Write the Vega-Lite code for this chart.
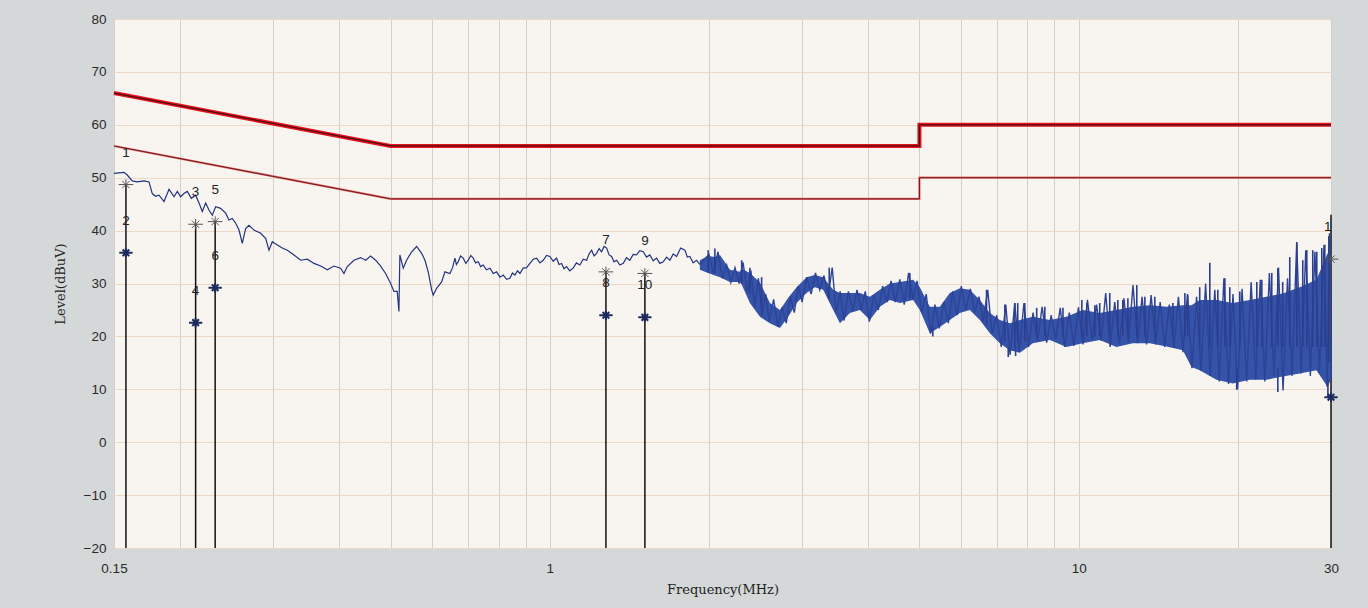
{
  "$schema": "https://vega.github.io/schema/vega-lite/v6.json",
  "width": 1217,
  "height": 529,
  "autosize": {"type": "none"},
  "padding": {"left": 114, "top": 19, "right": 37, "bottom": 60},
  "background": "#d5d8d8",
  "config": {
    "view": {"fill": "#f8f5f1", "stroke": "#9c9c9c", "strokeWidth": 1},
    "axis": {"domain": false, "ticks": false, "tickSize": 0, "labelFont": "Liberation Sans", "labelFontSize": 13.5, "labelColor": "#2a2a2a", "titleFont": "DejaVu Serif", "titleFontSize": 13, "titleFontWeight": "normal", "titleColor": "#222222"},
    "axisX": {"gridColor": "#d2cfcc", "gridWidth": 1},
    "axisY": {"gridColor": "#ecd9c6", "gridWidth": 1}
  },
  "datasets": {
    "limits": [
      {"s": "QP", "i": 0, "f": 0.15, "L": 66}, {"s": "QP", "i": 1, "f": 0.5, "L": 56}, {"s": "QP", "i": 2, "f": 5, "L": 56}, {"s": "QP", "i": 3, "f": 5, "L": 60}, {"s": "QP", "i": 4, "f": 30, "L": 60},
      {"s": "AV", "i": 0, "f": 0.15, "L": 56}, {"s": "AV", "i": 1, "f": 0.5, "L": 46}, {"s": "AV", "i": 2, "f": 5, "L": 46}, {"s": "AV", "i": 3, "f": 5, "L": 50}, {"s": "AV", "i": 4, "f": 30, "L": 50}
    ],
    "trace": [
      {"f": 0.150, "L": 50.8}, {"f": 0.1567, "L": 51.0}, {"f": 0.1589, "L": 50.5}, {"f": 0.1624, "L": 49.4}, {"f": 0.166, "L": 49.2}, {"f": 0.1709, "L": 49.4}, {"f": 0.1747, "L": 49.2}, {"f": 0.1772, "L": 47.0}, {"f": 0.1798, "L": 46.5}, {"f": 0.1825, "L": 46.7}, {"f": 0.1865, "L": 45.5}, {"f": 0.1906, "L": 47.8}, {"f": 0.1948, "L": 46.4}, {"f": 0.1976, "L": 47.4}, {"f": 0.2005, "L": 46.4}, {"f": 0.2034, "L": 47.0}, {"f": 0.2064, "L": 47.4}, {"f": 0.2100, "L": 46.1}, {"f": 0.2140, "L": 46.7}, {"f": 0.2172, "L": 45.2}, {"f": 0.2203, "L": 43.6}, {"f": 0.2236, "L": 45.2}, {"f": 0.2268, "L": 43.9}, {"f": 0.2301, "L": 42.9}, {"f": 0.2335, "L": 44.5}, {"f": 0.2386, "L": 44.2}, {"f": 0.2439, "L": 43.3}, {"f": 0.2474, "L": 42.0}, {"f": 0.2510, "L": 42.3}, {"f": 0.2548, "L": 41.4}, {"f": 0.2585, "L": 40.1}, {"f": 0.2622, "L": 37.6}, {"f": 0.2661, "L": 40.4}, {"f": 0.2700, "L": 41.0}, {"f": 0.2759, "L": 40.1}, {"f": 0.2841, "L": 39.5}, {"f": 0.2904, "L": 38.5}, {"f": 0.2945, "L": 36.3}, {"f": 0.2988, "L": 37.9}, {"f": 0.3054, "L": 37.3}, {"f": 0.3121, "L": 36.7}, {"f": 0.3190, "L": 36.3}, {"f": 0.3284, "L": 35.4}, {"f": 0.3381, "L": 34.4}, {"f": 0.3480, "L": 34.6}, {"f": 0.3583, "L": 33.8}, {"f": 0.3689, "L": 33.3}, {"f": 0.3797, "L": 32.6}, {"f": 0.3908, "L": 33.3}, {"f": 0.4023, "L": 32.9}, {"f": 0.4082, "L": 31.9}, {"f": 0.4141, "L": 33.2}, {"f": 0.4264, "L": 34.4}, {"f": 0.4390, "L": 34.9}, {"f": 0.4486, "L": 34.4}, {"f": 0.4585, "L": 35.2}, {"f": 0.4686, "L": 34.4}, {"f": 0.4789, "L": 33.3}, {"f": 0.4894, "L": 31.9}, {"f": 0.5002, "L": 30.0}, {"f": 0.5074, "L": 28.5}, {"f": 0.5147, "L": 28.5}, {"f": 0.5186, "L": 24.7}, {"f": 0.5207, "L": 35.4}, {"f": 0.5284, "L": 32.9}, {"f": 0.5362, "L": 34.4}, {"f": 0.5481, "L": 36.0}, {"f": 0.5601, "L": 37.0}, {"f": 0.5725, "L": 35.7}, {"f": 0.5808, "L": 34.4}, {"f": 0.5891, "L": 32.2}, {"f": 0.5980, "L": 28.8}, {"f": 0.6021, "L": 27.8}, {"f": 0.6110, "L": 29.1}, {"f": 0.6245, "L": 30.3}, {"f": 0.6335, "L": 32.2},
      {"f": 0.6475, "L": 31.9}, {"f": 0.655, "L": 33.0}, {"f": 0.6617, "L": 34.8}, {"f": 0.666, "L": 33.6}, {"f": 0.6714, "L": 34.1}, {"f": 0.678, "L": 35.2}, {"f": 0.6861, "L": 34.8}, {"f": 0.694, "L": 33.8}, {"f": 0.7013, "L": 34.4}, {"f": 0.709, "L": 35.3}, {"f": 0.7166, "L": 34.8}, {"f": 0.724, "L": 33.9}, {"f": 0.7325, "L": 34.1}, {"f": 0.740, "L": 33.2}, {"f": 0.7485, "L": 33.5}, {"f": 0.759, "L": 32.6}, {"f": 0.7707, "L": 32.9}, {"f": 0.782, "L": 31.9}, {"f": 0.7934, "L": 32.2}, {"f": 0.805, "L": 31.2}, {"f": 0.8166, "L": 31.6}, {"f": 0.829, "L": 30.8}, {"f": 0.8408, "L": 31.0}, {"f": 0.850, "L": 32.0}, {"f": 0.8592, "L": 31.6}, {"f": 0.869, "L": 32.4}, {"f": 0.8782, "L": 31.9}, {"f": 0.8907, "L": 32.9}, {"f": 0.904, "L": 33.0}, {"f": 0.9173, "L": 33.8}, {"f": 0.931, "L": 34.6}, {"f": 0.9445, "L": 34.8}, {"f": 0.958, "L": 33.9}, {"f": 0.9719, "L": 34.4}, {"f": 0.986, "L": 35.3}, {"f": 1.0007, "L": 35.1}, {"f": 1.015, "L": 34.2}, {"f": 1.030, "L": 34.8}, {"f": 1.041, "L": 33.6}, {"f": 1.053, "L": 33.8}, {"f": 1.064, "L": 32.8}, {"f": 1.076, "L": 33.2}, {"f": 1.091, "L": 32.4}, {"f": 1.107, "L": 32.9}, {"f": 1.123, "L": 33.9}, {"f": 1.140, "L": 33.5}, {"f": 1.157, "L": 34.6}, {"f": 1.174, "L": 34.4}, {"f": 1.187, "L": 35.6}, {"f": 1.200, "L": 36.3}, {"f": 1.213, "L": 35.2}, {"f": 1.226, "L": 35.7}, {"f": 1.240, "L": 36.6}, {"f": 1.253, "L": 36.0}, {"f": 1.267, "L": 37.0}, {"f": 1.281, "L": 36.7}, {"f": 1.295, "L": 35.4}, {"f": 1.309, "L": 35.1}, {"f": 1.323, "L": 34.1}, {"f": 1.338, "L": 34.4}, {"f": 1.357, "L": 33.5}, {"f": 1.377, "L": 33.8}, {"f": 1.397, "L": 34.9}, {"f": 1.417, "L": 34.4}, {"f": 1.438, "L": 35.5}, {"f": 1.459, "L": 35.4}, {"f": 1.480, "L": 36.2}, {"f": 1.502, "L": 36.0}, {"f": 1.524, "L": 35.0}, {"f": 1.546, "L": 35.4}, {"f": 1.569, "L": 34.3}, {"f": 1.592, "L": 34.8}, {"f": 1.615, "L": 33.8}, {"f": 1.639, "L": 34.1}, {"f": 1.663, "L": 35.0}, {"f": 1.687, "L": 34.4}, {"f": 1.712, "L": 35.6}, {"f": 1.737, "L": 35.1}, {"f": 1.768, "L": 36.7}, {"f": 1.801, "L": 36.3}, {"f": 1.820, "L": 35.0}, {"f": 1.840, "L": 35.1}, {"f": 1.867, "L": 33.9}, {"f": 1.895, "L": 34.4}, {"f": 1.922, "L": 33.6}
    ],
    "band": [
      {"f": 1.922, "L": 32.6, "L2": 34.4}, {"f": 1.993, "L": 32.0, "L2": 35.2}, {"f": 2.052, "L": 31.5, "L2": 35.0}, {"f": 2.098, "L": 31.2, "L2": 35.4}, {"f": 2.191, "L": 30.3, "L2": 32.6}, {"f": 2.288, "L": 30.3, "L2": 32.2}, {"f": 2.306, "L": 29.8, "L2": 32.8}, {"f": 2.390, "L": 26.3, "L2": 32.0}, {"f": 2.497, "L": 23.7, "L2": 30.2}, {"f": 2.608, "L": 22.5, "L2": 26.3}, {"f": 2.724, "L": 21.6, "L2": 25.0}, {"f": 2.824, "L": 23.7, "L2": 27.3}, {"f": 2.929, "L": 26.3, "L2": 29.3}, {"f": 3.059, "L": 28.2, "L2": 31.2}, {"f": 3.171, "L": 29.3, "L2": 31.6}, {"f": 3.288, "L": 28.8, "L2": 31.2}, {"f": 3.435, "L": 25.0, "L2": 28.8}, {"f": 3.537, "L": 22.5, "L2": 28.2}, {"f": 3.694, "L": 24.4, "L2": 28.2}, {"f": 3.858, "L": 25.0, "L2": 28.2}, {"f": 4.030, "L": 23.1, "L2": 27.5}, {"f": 4.209, "L": 25.6, "L2": 28.8}, {"f": 4.395, "L": 26.9, "L2": 30.0}, {"f": 4.591, "L": 26.3, "L2": 30.3}, {"f": 4.865, "L": 26.9, "L2": 30.7}, {"f": 5.008, "L": 25.0, "L2": 29.3}, {"f": 5.231, "L": 20.6, "L2": 25.6}, {"f": 5.464, "L": 21.8, "L2": 25.6}, {"f": 5.707, "L": 23.1, "L2": 28.2}, {"f": 5.961, "L": 24.4, "L2": 29.1}, {"f": 6.226, "L": 25.0, "L2": 28.8}, {"f": 6.504, "L": 23.1, "L2": 26.9}, {"f": 6.793, "L": 20.6, "L2": 24.4}, {"f": 7.096, "L": 18.7, "L2": 23.1}, {"f": 7.412, "L": 17.4, "L2": 22.5}, {"f": 7.742, "L": 16.9, "L2": 23.1}, {"f": 8.19, "L": 18.7, "L2": 23.7}, {"f": 8.82, "L": 19.3, "L2": 23.1}, {"f": 9.48, "L": 18.0, "L2": 23.7}, {"f": 10.18, "L": 18.7, "L2": 25.0}, {"f": 10.96, "L": 19.3, "L2": 24.4}, {"f": 11.79, "L": 18.0, "L2": 25.0}, {"f": 12.66, "L": 18.7, "L2": 25.6}, {"f": 13.63, "L": 18.7, "L2": 25.9}, {"f": 14.66, "L": 18.1, "L2": 25.6}, {"f": 15.74, "L": 17.4, "L2": 25.9}, {"f": 16.34, "L": 14.2, "L2": 25.9}, {"f": 16.94, "L": 13.6, "L2": 26.9}, {"f": 18.22, "L": 11.8, "L2": 26.9}, {"f": 19.56, "L": 11.1, "L2": 26.3}, {"f": 21.06, "L": 11.8, "L2": 26.9}, {"f": 22.65, "L": 11.8, "L2": 27.5}, {"f": 24.31, "L": 12.4, "L2": 28.1}, {"f": 26.18, "L": 13.0, "L2": 29.3}, {"f": 28.16, "L": 13.6, "L2": 30.7}, {"f": 29.58, "L": 10.4, "L2": 35.8}, {"f": 30, "L": 12, "L2": 30}
    ],
    "zigzag": [
      {"f": 1.922, "L": 33.6}, {"f": 2.00, "L": 35.5}, {"f": 2.04, "L": 31.8}, {"f": 2.08, "L": 36.0}, {"f": 2.12, "L": 31.0}, {"f": 2.16, "L": 33.5}, {"f": 2.20, "L": 30.2}, {"f": 2.24, "L": 33.0}, {"f": 2.28, "L": 30.0}, {"f": 2.32, "L": 34.0}, {"f": 2.36, "L": 28.5}, {"f": 2.40, "L": 32.5}, {"f": 2.44, "L": 25.5}, {"f": 2.48, "L": 31.0}, {"f": 2.52, "L": 24.0}, {"f": 2.56, "L": 28.0}, {"f": 2.60, "L": 22.8}, {"f": 2.65, "L": 27.0}, {"f": 2.70, "L": 21.8}, {"f": 2.75, "L": 25.5}, {"f": 2.80, "L": 22.5}, {"f": 2.85, "L": 27.5}, {"f": 2.90, "L": 24.5}, {"f": 2.95, "L": 29.5}, {"f": 3.00, "L": 26.5}, {"f": 3.06, "L": 31.2}, {"f": 3.12, "L": 28.0}, {"f": 3.18, "L": 32.0}, {"f": 3.24, "L": 28.8}, {"f": 3.30, "L": 31.5}, {"f": 3.36, "L": 27.5}, {"f": 3.42, "L": 33.0}, {"f": 3.48, "L": 24.5}, {"f": 3.54, "L": 28.5}, {"f": 3.60, "L": 23.0}, {"f": 3.67, "L": 28.5}, {"f": 3.74, "L": 24.8}, {"f": 3.81, "L": 28.8}, {"f": 3.88, "L": 25.0}, {"f": 3.95, "L": 28.5}, {"f": 4.02, "L": 22.8}, {"f": 4.10, "L": 27.8}, {"f": 4.18, "L": 25.0}, {"f": 4.26, "L": 29.5}, {"f": 4.34, "L": 26.5}, {"f": 4.42, "L": 30.5}, {"f": 4.50, "L": 26.5}, {"f": 4.59, "L": 30.8}, {"f": 4.68, "L": 26.0}, {"f": 4.77, "L": 32.0}, {"f": 4.86, "L": 27.0}, {"f": 4.95, "L": 30.5}, {"f": 5.05, "L": 24.5}, {"f": 5.15, "L": 28.0}, {"f": 5.25, "L": 20.5}, {"f": 5.35, "L": 26.0}, {"f": 5.45, "L": 21.5}, {"f": 5.56, "L": 26.5}, {"f": 5.67, "L": 22.5}, {"f": 5.78, "L": 28.5}, {"f": 5.89, "L": 24.0}, {"f": 6.00, "L": 29.5}, {"f": 6.12, "L": 25.0}, {"f": 6.24, "L": 29.0}, {"f": 6.36, "L": 24.5}, {"f": 6.48, "L": 27.5}, {"f": 6.60, "L": 22.8}, {"f": 6.73, "L": 28.8}, {"f": 6.86, "L": 20.5}, {"f": 7.00, "L": 24.0}, {"f": 7.14, "L": 18.0}, {"f": 7.28, "L": 26.0}, {"f": 7.42, "L": 16.5}, {"f": 7.57, "L": 26.3}, {"f": 7.72, "L": 17.0}, {"f": 7.88, "L": 26.3}, {"f": 8.04, "L": 18.0}, {"f": 8.20, "L": 24.5}, {"f": 8.36, "L": 19.0}, {"f": 8.53, "L": 25.6}, {"f": 8.70, "L": 18.8}, {"f": 8.87, "L": 24.0}, {"f": 9.05, "L": 19.5}, {"f": 9.23, "L": 25.4}, {"f": 9.41, "L": 18.0}, {"f": 9.60, "L": 24.5}, {"f": 9.79, "L": 18.2}, {"f": 9.99, "L": 25.5}, {"f": 10.19, "L": 18.5}, {"f": 10.39, "L": 26.9}, {"f": 10.60, "L": 19.5}, {"f": 10.81, "L": 26.0}, {"f": 11.03, "L": 19.2}, {"f": 11.25, "L": 28.2}, {"f": 11.47, "L": 18.0}, {"f": 11.70, "L": 26.5}, {"f": 11.94, "L": 18.5}, {"f": 12.18, "L": 27.2}, {"f": 12.42, "L": 18.9}, {"f": 12.67, "L": 29.7}, {"f": 12.92, "L": 18.7}, {"f": 13.18, "L": 27.5}, {"f": 13.44, "L": 18.5}, {"f": 13.71, "L": 27.8}, {"f": 13.98, "L": 18.5}, {"f": 14.26, "L": 26.5}, {"f": 14.55, "L": 18.0}, {"f": 14.84, "L": 26.0}, {"f": 15.14, "L": 17.8}, {"f": 15.44, "L": 27.5}, {"f": 15.75, "L": 17.0}, {"f": 16.06, "L": 28.0}, {"f": 16.38, "L": 14.0}, {"f": 16.71, "L": 27.5}, {"f": 17.04, "L": 13.5}, {"f": 17.38, "L": 30.0}, {"f": 17.73, "L": 12.5}, {"f": 18.09, "L": 28.8}, {"f": 18.45, "L": 11.5}, {"f": 18.82, "L": 31.0}, {"f": 19.20, "L": 11.0}, {"f": 19.58, "L": 28.0}, {"f": 19.97, "L": 10.0}, {"f": 20.37, "L": 29.0}, {"f": 20.78, "L": 11.5}, {"f": 21.19, "L": 30.3}, {"f": 21.62, "L": 11.8}, {"f": 22.05, "L": 30.7}, {"f": 22.49, "L": 11.5}, {"f": 22.94, "L": 32.0}, {"f": 23.40, "L": 12.5}, {"f": 23.87, "L": 33.0}, {"f": 24.35, "L": 9.8}, {"f": 24.83, "L": 31.0}, {"f": 25.33, "L": 12.5}, {"f": 25.84, "L": 37.8}, {"f": 26.35, "L": 13.0}, {"f": 26.88, "L": 36.3}, {"f": 27.42, "L": 12.5}, {"f": 27.97, "L": 36.0}, {"f": 28.53, "L": 13.0}, {"f": 29.10, "L": 37.3}, {"f": 29.50, "L": 10.5}, {"f": 29.80, "L": 39.5}, {"f": 30.00, "L": 12.0}
    ],
    "spikes": [
      {"f": 1.993, "L": 32, "L2": 36.3}, {"f": 2.052, "L": 32, "L2": 36.6}, {"f": 2.306, "L": 30, "L2": 34.4}, {"f": 2.390, "L": 28, "L2": 33.0}, {"f": 2.515, "L": 25, "L2": 31.2}, {"f": 3.376, "L": 27, "L2": 33.0}, {"f": 4.796, "L": 27, "L2": 32.0}, {"f": 6.696, "L": 22, "L2": 28.8}, {"f": 7.574, "L": 18, "L2": 26.3}, {"f": 7.25, "L": 19, "L2": 26.0}, {"f": 7.67, "L": 19, "L2": 26.3}, {"f": 7.91, "L": 19, "L2": 26.3}, {"f": 8.33, "L": 20, "L2": 25.4}, {"f": 8.63, "L": 20, "L2": 25.6}, {"f": 9.34, "L": 20, "L2": 25.4}, {"f": 10.14, "L": 20, "L2": 26.9}, {"f": 10.36, "L": 20, "L2": 26.3}, {"f": 10.73, "L": 20, "L2": 25.9}, {"f": 10.96, "L": 20, "L2": 26.3}, {"f": 11.45, "L": 20, "L2": 28.2}, {"f": 11.86, "L": 20, "L2": 26.9}, {"f": 12.12, "L": 20, "L2": 26.9}, {"f": 12.39, "L": 20, "L2": 27.2}, {"f": 12.88, "L": 20, "L2": 29.7}, {"f": 13.34, "L": 20, "L2": 27.5}, {"f": 13.93, "L": 20, "L2": 27.5}, {"f": 15.07, "L": 20, "L2": 26.3}, {"f": 15.88, "L": 20, "L2": 28.2}, {"f": 16.08, "L": 20, "L2": 27.8}, {"f": 16.94, "L": 18, "L2": 29.3}, {"f": 17.70, "L": 18, "L2": 33.9}, {"f": 18.33, "L": 18, "L2": 28.8}, {"f": 18.90, "L": 18, "L2": 31.0}, {"f": 19.31, "L": 18, "L2": 29.3}, {"f": 20.17, "L": 18, "L2": 28.5}, {"f": 21.72, "L": 18, "L2": 30.3}, {"f": 22.20, "L": 18, "L2": 30.7}, {"f": 23.18, "L": 18, "L2": 32.0}, {"f": 23.80, "L": 18, "L2": 32.9}, {"f": 24.31, "L": 18, "L2": 30.3}, {"f": 25.07, "L": 18, "L2": 35.0}, {"f": 25.85, "L": 18, "L2": 37.8}, {"f": 26.53, "L": 18, "L2": 34.4}, {"f": 27.00, "L": 18, "L2": 36.3}, {"f": 27.71, "L": 18, "L2": 36.3}, {"f": 28.20, "L": 18, "L2": 36.0}, {"f": 28.82, "L": 18, "L2": 36.7}, {"f": 29.20, "L": 18, "L2": 37.3}, {"f": 29.72, "L": 15, "L2": 39.0},
      {"f": 7.36, "L": 18, "L2": 16.1}, {"f": 19.9, "L": 14, "L2": 9.9}, {"f": 23.8, "L": 14, "L2": 9.5}, {"f": 29.6, "L": 12, "L2": 8.5}, {"f": 5.30, "L": 22, "L2": 20.0}, {"f": 7.6, "L": 18, "L2": 16.3}
    ],
    "stems": [
      {"f": 0.158, "L": -20, "L2": 48.7}, {"f": 0.214, "L": -20, "L2": 41.2}, {"f": 0.233, "L": -20, "L2": 41.7}, {"f": 1.277, "L": -20, "L2": 32.2}, {"f": 1.513, "L": -20, "L2": 31.9}, {"f": 30, "L": -20, "L2": 43.0}
    ],
    "markers": [
      {"id": "1", "kind": "QP", "f": 0.158, "L": 48.7}, {"id": "2", "kind": "AV", "f": 0.158, "L": 35.8},
      {"id": "3", "kind": "QP", "f": 0.214, "L": 41.2}, {"id": "4", "kind": "AV", "f": 0.214, "L": 22.6},
      {"id": "5", "kind": "QP", "f": 0.233, "L": 41.7}, {"id": "6", "kind": "AV", "f": 0.233, "L": 29.2},
      {"id": "7", "kind": "QP", "f": 1.277, "L": 32.2}, {"id": "8", "kind": "AV", "f": 1.277, "L": 24.0},
      {"id": "9", "kind": "QP", "f": 1.513, "L": 31.9}, {"id": "10", "kind": "AV", "f": 1.513, "L": 23.6},
      {"id": "11", "kind": "QP", "f": 30, "L": 34.6}, {"id": "12", "kind": "AV", "f": 30, "L": 8.5}
    ]
  },
  "layer": [
    {
      "data": {"name": "limits"},
      "transform": [{"filter": "datum.s === 'QP'"}],
      "mark": {"type": "line", "color": "#e8121c", "strokeWidth": 4},
      "encoding": {
        "x": {"field": "f", "type": "quantitative", "scale": {"type": "log", "domain": [0.15, 30], "nice": false},
          "axis": {"title": "Frequency(MHz)", "values": [0.15, 0.2, 0.3, 0.4, 0.5, 0.6, 0.7, 0.8, 0.9, 1, 2, 3, 4, 5, 6, 7, 8, 9, 10, 20, 30],
            "labelExpr": "datum.value == 0.15 ? '0.15' : datum.value == 1 ? '1' : datum.value == 10 ? '10' : datum.value == 30 ? '30' : ''",
            "labelOverlap": false, "labelFlush": false, "labelPadding": 13, "titlePadding": 9}},
        "y": {"field": "L", "type": "quantitative", "scale": {"domain": [-20, 80], "nice": false, "zero": false},
          "axis": {"title": "Level(dBuV)", "values": [-20, -10, 0, 10, 20, 30, 40, 50, 60, 70, 80], "labelPadding": 8, "titlePadding": 16}},
        "order": {"field": "i"}
      }
    },
    {
      "data": {"name": "limits"},
      "transform": [{"filter": "datum.s === 'QP'"}],
      "mark": {"type": "line", "color": "#4a1010", "strokeWidth": 1.2},
      "encoding": {"x": {"field": "f", "type": "quantitative"}, "y": {"field": "L", "type": "quantitative"}, "order": {"field": "i"}}
    },
    {
      "data": {"name": "limits"},
      "transform": [{"filter": "datum.s === 'AV'"}],
      "mark": {"type": "line", "color": "#ea7070", "strokeWidth": 2.2},
      "encoding": {"x": {"field": "f", "type": "quantitative"}, "y": {"field": "L", "type": "quantitative"}, "order": {"field": "i"}}
    },
    {
      "data": {"name": "limits"},
      "transform": [{"filter": "datum.s === 'AV'"}],
      "mark": {"type": "line", "color": "#6a1818", "strokeWidth": 1},
      "encoding": {"x": {"field": "f", "type": "quantitative"}, "y": {"field": "L", "type": "quantitative"}, "order": {"field": "i"}}
    },
    {
      "data": {"name": "stems"},
      "mark": {"type": "rule", "color": "#111111", "strokeWidth": 1.5},
      "encoding": {"x": {"field": "f", "type": "quantitative"}, "y": {"field": "L", "type": "quantitative"}, "y2": {"field": "L2"}}
    },
    {
      "data": {"name": "trace"},
      "mark": {"type": "line", "color": "#24337e", "strokeWidth": 1.2},
      "encoding": {"x": {"field": "f", "type": "quantitative"}, "y": {"field": "L", "type": "quantitative"}}
    },
    {
      "data": {"name": "markers"},
      "mark": {"type": "text", "font": "Liberation Sans", "fontSize": 13.5, "color": "#222222", "dy": -32, "baseline": "middle", "clip": true},
      "encoding": {"x": {"field": "f", "type": "quantitative"}, "y": {"field": "L", "type": "quantitative"}, "text": {"field": "id"}}
    },
    {
      "data": {"name": "band"},
      "mark": {"type": "area", "color": "#3553a8", "opacity": 1},
      "encoding": {"x": {"field": "f", "type": "quantitative"}, "y": {"field": "L", "type": "quantitative"}, "y2": {"field": "L2"}}
    },
    {
      "data": {"name": "zigzag"},
      "mark": {"type": "line", "color": "#2c4396", "strokeWidth": 1.4},
      "encoding": {"x": {"field": "f", "type": "quantitative"}, "y": {"field": "L", "type": "quantitative"}}
    },
    {
      "data": {"name": "spikes"},
      "mark": {"type": "rule", "color": "#2a3f8e", "strokeWidth": 1.6},
      "encoding": {"x": {"field": "f", "type": "quantitative"}, "y": {"field": "L", "type": "quantitative"}, "y2": {"field": "L2"}}
    },
    {
      "data": {"name": "markers"},
      "transform": [{"filter": "datum.kind === 'QP'"}],
      "mark": {"type": "point", "shape": "M-1.4,0L1.4,0M0,-1L0,1M-0.7,-0.7L0.7,0.7M-0.7,0.7L0.7,-0.7", "filled": false, "stroke": "#555555", "strokeWidth": 1, "size": 110, "opacity": 1},
      "encoding": {"x": {"field": "f", "type": "quantitative"}, "y": {"field": "L", "type": "quantitative"}}
    },
    {
      "data": {"name": "markers"},
      "transform": [{"filter": "datum.kind === 'AV'"}],
      "mark": {"type": "point", "shape": "M-1.4,0L1.4,0M0,-1L0,1M-0.7,-0.7L0.7,0.7M-0.7,0.7L0.7,-0.7", "filled": false, "stroke": "#1d2a5c", "strokeWidth": 2, "size": 90, "opacity": 1},
      "encoding": {"x": {"field": "f", "type": "quantitative"}, "y": {"field": "L", "type": "quantitative"}}
    }
  ]
}
